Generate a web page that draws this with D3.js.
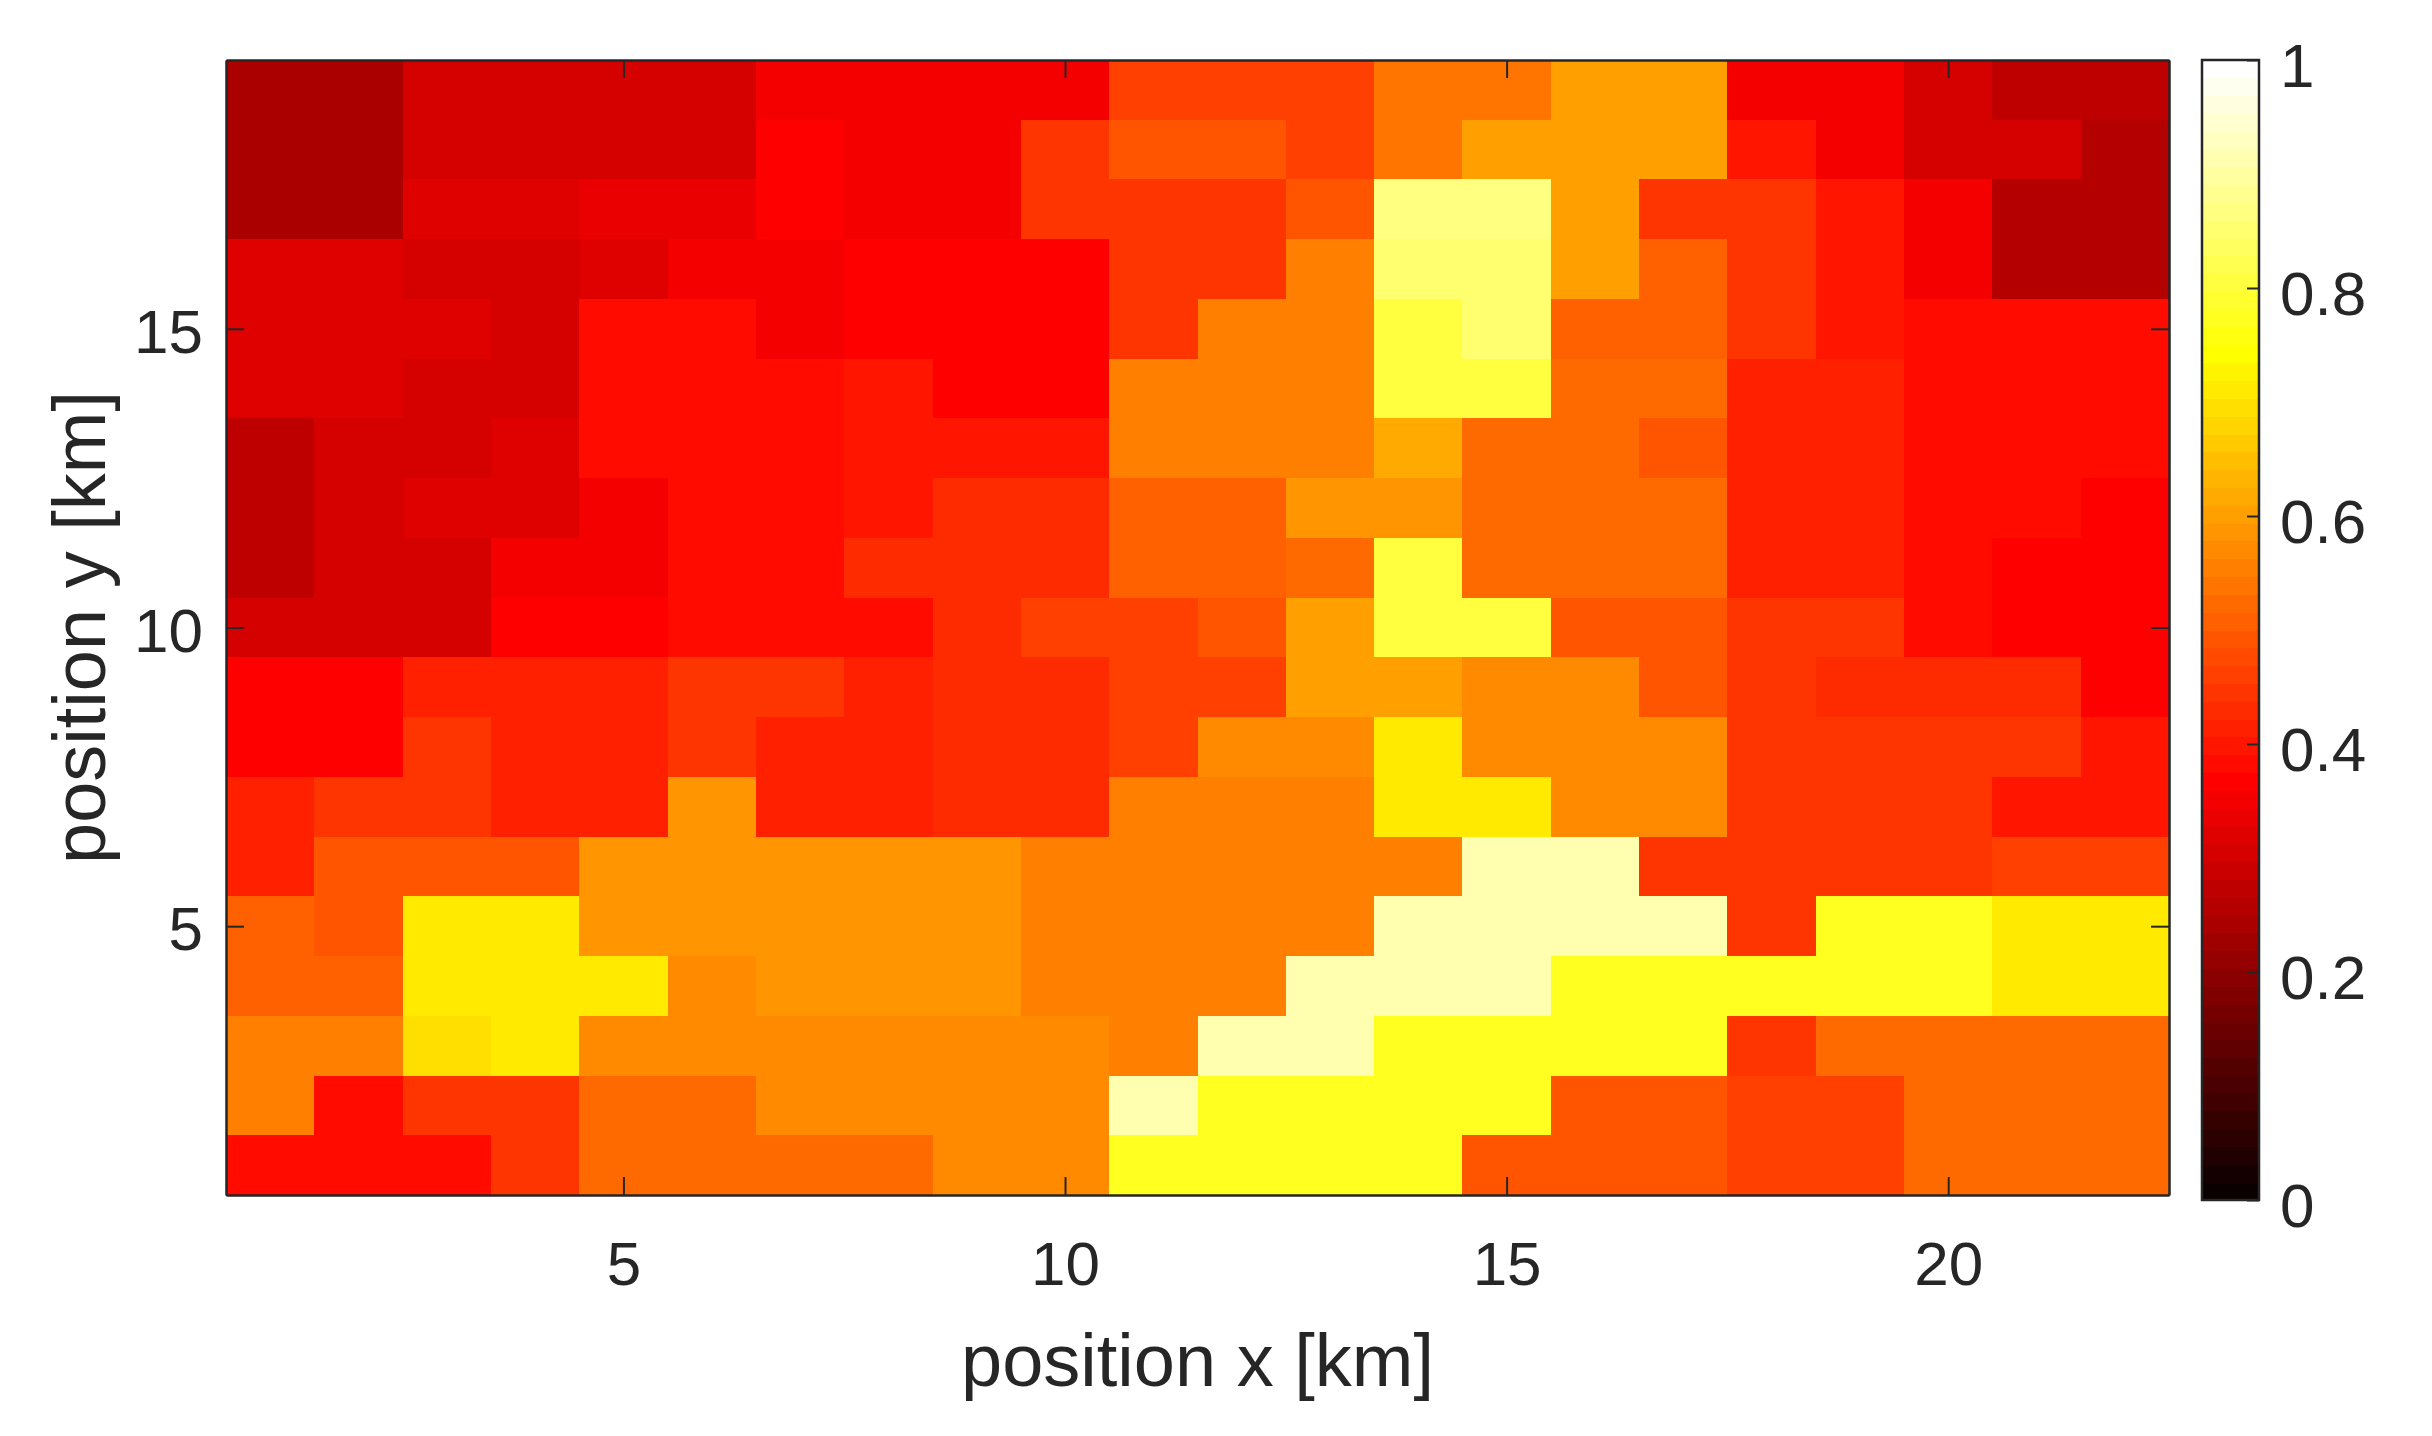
<!DOCTYPE html>
<html><head><meta charset="utf-8">
<script src="https://cdn.jsdelivr.net/npm/d3@7/dist/d3.min.js"></script>
<style>html,body{margin:0;background:#fff}svg{display:block}text{font-family:"Liberation Sans",Arial,sans-serif;fill:#262626}</style>
</head><body><svg id="c" width="2432" height="1436"></svg>
<script>
const xTicks=[5,10,15,20], yTicks=[5,10,15], cTicks=[0,.2,.4,.6,.8,1];
const xTitle="position x [km]", yTitle="position y [km]";
// values, one array per row, from y = 19 (top) to y = 1 (bottom)
const y19=[.242,.242,.305,.305,.305,.305,.352,.352,.352,.352,.461,.461,.461,.539,.539,.602,.602,.352,.352,.305,.273,.273];
const y18=[.242,.242,.305,.305,.305,.305,.367,.352,.352,.445,.492,.492,.461,.539,.602,.602,.602,.398,.352,.305,.305,.258];
const y17=[.242,.242,.320,.320,.336,.336,.367,.352,.352,.445,.445,.445,.492,.867,.867,.602,.445,.445,.398,.352,.258,.258];
const y16=[.320,.320,.305,.305,.320,.352,.352,.367,.367,.367,.445,.445,.555,.852,.852,.602,.508,.445,.398,.352,.258,.258];
const y15=[.320,.320,.320,.305,.383,.383,.352,.367,.367,.367,.445,.555,.555,.805,.852,.508,.508,.445,.398,.383,.383,.383];
const y14=[.320,.320,.305,.305,.383,.383,.383,.398,.367,.367,.555,.555,.555,.805,.805,.523,.523,.414,.414,.383,.383,.383];
const y13=[.273,.305,.305,.320,.383,.383,.383,.398,.398,.398,.555,.555,.555,.617,.523,.523,.492,.414,.414,.383,.383,.383];
const y12=[.273,.305,.320,.320,.352,.383,.383,.398,.430,.430,.508,.508,.586,.586,.523,.523,.523,.414,.414,.383,.383,.367];
const y11=[.273,.305,.305,.352,.352,.383,.383,.430,.430,.430,.508,.508,.523,.805,.523,.523,.523,.414,.414,.383,.367,.367];
const y10=[.305,.305,.305,.367,.367,.383,.383,.383,.430,.461,.461,.492,.602,.805,.805,.492,.492,.445,.445,.383,.367,.367];
const y9 =[.367,.367,.414,.414,.414,.445,.445,.414,.430,.430,.461,.461,.602,.602,.570,.570,.492,.445,.430,.430,.430,.367];
const y8 =[.367,.367,.445,.414,.414,.445,.414,.414,.430,.430,.461,.570,.570,.711,.570,.570,.570,.445,.445,.445,.445,.398];
const y7 =[.414,.445,.445,.414,.414,.586,.414,.414,.430,.430,.555,.555,.555,.711,.711,.570,.570,.445,.445,.445,.398,.398];
const y6 =[.414,.492,.492,.492,.586,.586,.586,.586,.586,.555,.555,.555,.555,.555,.914,.914,.445,.445,.445,.445,.461,.461];
const y5 =[.508,.492,.711,.711,.586,.586,.586,.586,.586,.555,.555,.555,.555,.914,.914,.914,.914,.445,.773,.773,.711,.711];
const y4 =[.508,.508,.711,.711,.711,.570,.586,.586,.586,.555,.555,.555,.914,.914,.914,.773,.773,.773,.773,.773,.711,.711];
const y3 =[.555,.555,.695,.711,.570,.570,.570,.570,.570,.570,.555,.914,.914,.773,.773,.773,.773,.445,.523,.523,.523,.523];
const y2 =[.555,.383,.445,.445,.523,.523,.570,.570,.570,.570,.914,.773,.773,.773,.773,.492,.492,.461,.461,.523,.523,.523];
const y1 =[.383,.383,.383,.445,.523,.523,.523,.523,.570,.570,.773,.773,.773,.773,.492,.492,.492,.461,.461,.523,.523,.523];
const rows=[y19,y18,y17,y16,y15,y14,y13,y12,y11,y10,y9,y8,y7,y6,y5,y4,y3,y2,y1];

const L=226,R=2169,T=60,B=1195, CL=2202,CR=2259,CT=60,CB=1200;
const ink="#262626", tickFs=62, labelFs=74;

// MATLAB-style hot(64) colormap
const hot=d3.range(1,65).map(i=>d3.rgb(
  255*Math.min(1,i/24),
  255*Math.max(0,Math.min(1,(i-24)/24)),
  255*Math.max(0,Math.min(1,(i-48)/16))).formatHex());
const color=d3.scaleQuantize().domain([0,1]).range(hot);

const x=d3.scaleLinear().domain([.5,22.5]).range([L,R]);
const y=d3.scaleLinear().domain([.5,19.5]).range([B,T]);
const svg=d3.select("#c");

const cells=rows.flatMap((r,j)=>r.map((v,i)=>({cx:i+1,cy:19-j,v})));
svg.append("g").attr("shape-rendering","crispEdges").selectAll("rect").data(cells).join("rect")
  .attr("x",d=>x(d.cx-.5)).attr("y",d=>y(d.cy+.5))
  .attr("width",d=>x(d.cx+.5)-x(d.cx-.5)+.5).attr("height",d=>y(d.cy-.5)-y(d.cy+.5)+.5)
  .attr("fill",d=>color(d.v));

function style(g,fs){
  g.select(".domain").attr("stroke",ink).attr("stroke-width",2.5);
  g.selectAll(".tick line").attr("stroke",ink).attr("stroke-width",2);
  g.selectAll(".tick text").attr("font-size",fs).attr("fill",ink).attr("font-family",'"Liberation Sans"');
}
const tick=18;
svg.append("g").attr("transform",`translate(0,${B})`)
  .call(d3.axisBottom(x).tickValues(xTicks).tickSizeInner(-tick).tickSizeOuter(0).tickPadding(46).tickFormat(d3.format("d")))
  .call(g=>style(g,tickFs));
svg.append("g").attr("transform",`translate(0,${T})`)
  .call(d3.axisTop(x).tickValues(xTicks).tickSizeInner(-tick).tickSizeOuter(0).tickFormat(""))
  .call(g=>style(g,tickFs));
svg.append("g").attr("transform",`translate(${L},0)`)
  .call(d3.axisLeft(y).tickValues(yTicks).tickSizeInner(-tick).tickSizeOuter(0).tickPadding(23).tickFormat(d3.format("d")))
  .call(g=>style(g,tickFs)).call(g=>g.selectAll(".tick text").attr("dy",".38em"));
svg.append("g").attr("transform",`translate(${R},0)`)
  .call(d3.axisRight(y).tickValues(yTicks).tickSizeInner(-tick).tickSizeOuter(0).tickFormat(""))
  .call(g=>style(g,tickFs));

// colour bar
const cy=d3.scaleLinear().domain([0,1]).range([CB,CT]);
const band=d3.scaleBand().domain(d3.range(64)).range([CB,CT]);
svg.append("g").attr("shape-rendering","crispEdges").selectAll("rect").data(d3.range(64)).join("rect")
  .attr("x",CL).attr("width",CR-CL).attr("y",i=>band(i)).attr("height",band.bandwidth()+.5)
  .attr("fill",i=>hot[i]);
svg.append("rect").attr("x",CL).attr("y",CT).attr("width",CR-CL).attr("height",CB-CT)
  .attr("fill","none").attr("stroke",ink).attr("stroke-width",2.5);
svg.append("g").attr("transform",`translate(${CR},0)`)
  .call(d3.axisRight(cy).tickValues(cTicks).tickSizeInner(-12).tickSizeOuter(0).tickPadding(21).tickFormat(d3.format("~g")))
  .call(g=>style(g,tickFs)).call(g=>g.select(".domain").remove())
  .call(g=>g.selectAll(".tick text").attr("dy",".42em"));

svg.append("text").attr("x",(L+R)/2).attr("y",1362).attr("dy",".32em").attr("text-anchor","middle").attr("font-size",labelFs).text(xTitle);
svg.append("text").attr("transform",`translate(81,${(T+B)/2}) rotate(-90)`).attr("dy",".32em").attr("text-anchor","middle").attr("font-size",labelFs).text(yTitle);
</script></body></html>
